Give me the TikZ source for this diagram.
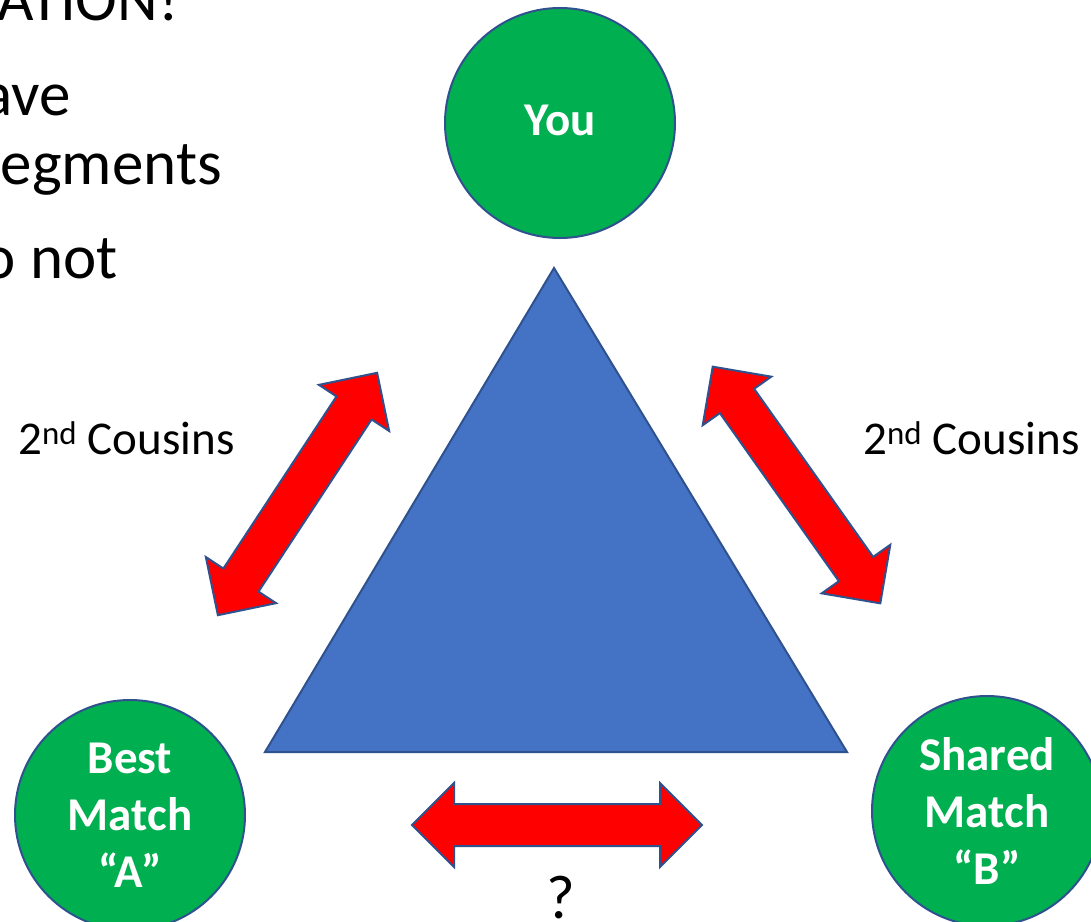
\documentclass[tikz,border=0pt]{standalone}
\usepackage{fontspec}
\setmainfont{Carlito}
\usetikzlibrary{shapes.arrows}
\definecolor{matchgreen}{HTML}{00B050}
\definecolor{edgeblue}{HTML}{2F528F}
\definecolor{triblue}{HTML}{4472C4}
\definecolor{arrowred}{HTML}{FF0000}
\tikzset{
  person/.style={circle, draw=edgeblue, line width=2pt, fill=matchgreen,
    minimum size=230pt, inner sep=0pt, align=center, text=white,
    font=\fontsize{47}{57}\selectfont\bfseries},
  relarrow/.style={double arrow, draw=edgeblue, line width=2pt, fill=arrowred,
    minimum height=290pt, minimum width=82pt, inner xsep=0pt, inner ysep=20pt,
    double arrow head extend=21pt, double arrow tip angle=90},
  bodytext/.style={inner sep=0pt, font=\fontsize{63}{76}\selectfont, anchor=base east},
  rellabel/.style={inner sep=0pt, font=\fontsize{47}{56}\selectfont, anchor=base west}
}
\begin{document}
\begin{tikzpicture}[x=1pt, y=-1pt]
\useasboundingbox (0,0) rectangle (1091,921);
\clip (0,0) rectangle (1091,921);
\fill[white] (0,0) rectangle (1091,921);

% slide text running in from the left
\node[bodytext] (t1) at (179,20) {ATION!};
\node[bodytext] (t2) at (71,115) {ave};
\node[bodytext] (t3) at (222,184) {egments};
\node[bodytext] (t4) at (118,278) {o not};

% central triangle
\filldraw[fill=triblue, draw=edgeblue, line width=2pt, line join=miter]
  (554,268) -- (847,752) -- (265,752) -- cycle;

% the three people
\node[person] (you) at (560,123) {\raisebox{6pt}{You}};
\node[person] (best) at (130,815) {Best\\Match\\“A”};
\node[person] (shared) at (987,811) {Shared\\Match\\“B”};

% relationship arrows
\node[relarrow, rotate=56.7] (ab) at (297.5,494) {};
\node[relarrow, rotate=-54.7] (ay) at (796.5,485) {};
\node[relarrow] (bs) at (557,825) {};

% labels
\node[rellabel] (l1) at (18,454) {2\textsuperscript{nd} Cousins};
\node[rellabel] (l2) at (863,454) {2\textsuperscript{nd} Cousins};
\node[inner sep=0pt, font=\fontsize{62}{76}\selectfont, anchor=base] (q) at (561,918) {?};
\end{tikzpicture}
\end{document}
